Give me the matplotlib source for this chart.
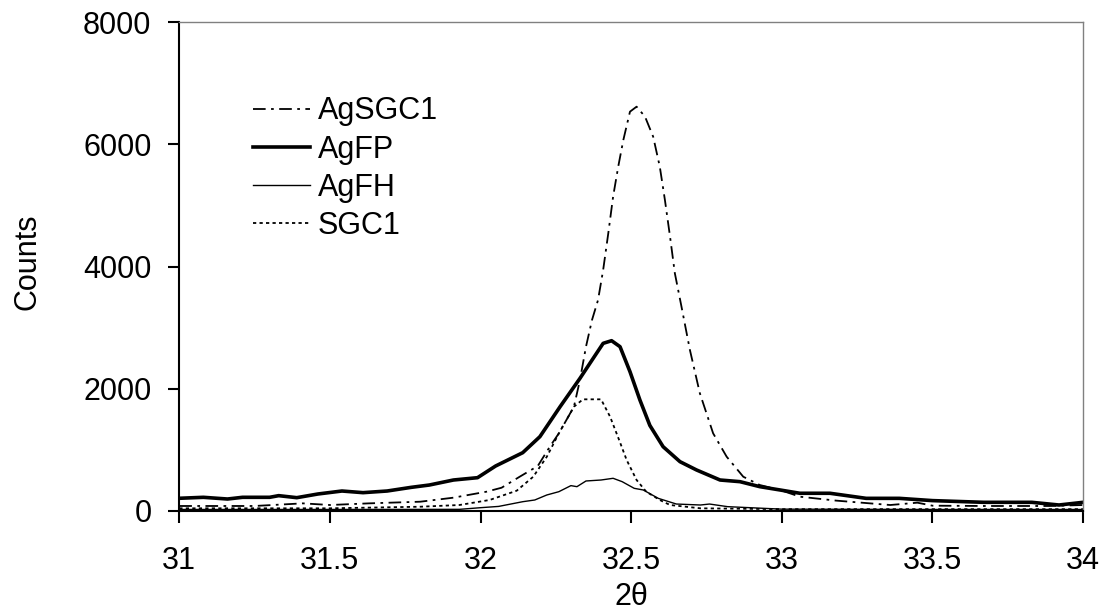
import matplotlib
matplotlib.use("Agg")
import matplotlib.pyplot as plt

plt.rcParams['font.family'] = ['Liberation Sans', 'DejaVu Sans']

# values (2theta, counts)
agsgc1_x = [31.0, 31.25, 31.41, 31.5, 31.63, 31.8, 31.91, 32.02, 32.07, 32.13, 32.19, 32.23,
            32.26, 32.31, 32.33, 32.35, 32.37, 32.39, 32.407, 32.424, 32.44, 32.457, 32.474,
            32.496, 32.518, 32.546, 32.573, 32.595, 32.612, 32.629, 32.645, 32.667, 32.695,
            32.728, 32.772, 32.817, 32.872, 32.927, 32.994, 33.06, 33.18, 33.36, 33.45, 33.5,
            33.67, 33.89, 34.0]
agsgc1_y = [82, 82, 125, 98, 125, 152, 218, 316, 381, 561, 736, 1052,
            1271, 1706, 2143, 2688, 3125, 3452, 3943, 4543, 5142, 5633, 6070,
            6533, 6615, 6451, 6124, 5633, 5088, 4488, 3889, 3343, 2634,
            1926, 1271, 888, 561, 425, 344, 234, 170, 98, 136, 87,
            82, 82, 98]

agfp_x = [31.0, 31.08, 31.16, 31.21, 31.3, 31.33, 31.39, 31.46, 31.54, 31.61, 31.69, 31.77,
          31.83, 31.91, 31.99, 32.05, 32.14, 32.197, 32.264, 32.33, 32.374, 32.407, 32.435,
          32.463, 32.496, 32.529, 32.562, 32.606, 32.662, 32.717, 32.795, 32.861, 32.927,
          32.994, 33.06, 33.16, 33.28, 33.39, 33.5, 33.67, 33.83, 33.92, 34.0]
agfp_y = [208, 224, 196, 224, 224, 251, 218, 278, 327, 300, 327, 387,
          425, 507, 545, 736, 954, 1216, 1706, 2170, 2498, 2743, 2786,
          2688, 2280, 1816, 1400, 1052, 807, 671, 507, 480, 398,
          344, 290, 290, 207, 207, 170, 142, 142, 98, 142]

agfh_x = [31.0, 31.5, 31.93, 32.0, 32.06, 32.14, 32.18, 32.22, 32.26, 32.3, 32.32, 32.35,
          32.4, 32.44, 32.47, 32.51, 32.54, 32.59, 32.65, 32.73, 32.76, 32.82, 33.0, 33.5, 34.0]
agfh_y = [25, 25, 27, 54, 75, 152, 180, 262, 316, 415, 398, 491,
          507, 535, 480, 371, 344, 207, 114, 98, 114, 71, 30, 25, 25]

sgc1_x = [31.0, 31.5, 31.8, 31.93, 32.03, 32.12, 32.175, 32.22, 32.26, 32.31, 32.34, 32.4,
          32.43, 32.46, 32.485, 32.518, 32.55, 32.595, 32.629, 32.73, 33.0, 33.5, 34.0]
sgc1_y = [44, 44, 70, 98, 180, 332, 561, 888, 1271, 1706, 1827, 1827,
          1543, 1162, 834, 507, 316, 180, 98, 44, 30, 30, 30]

fig = plt.figure(figsize=(11.08, 6.13), dpi=100)
ax = fig.add_axes([0.1618, 0.1664, 0.8157, 0.7977])

ax.plot(agsgc1_x, agsgc1_y, color='black', lw=1.3, ls=(0, (7, 3, 1.5, 3)), label='AgSGC1')
ax.plot(agfp_x, agfp_y, color='black', lw=2.6, label='AgFP')
ax.plot(agfh_x, agfh_y, color='black', lw=1.0, label='AgFH')
ax.plot(sgc1_x, sgc1_y, color='black', lw=1.3, ls=(0, (1.8, 1.8)), label='SGC1')

ax.set_xlim(31, 34)
ax.set_ylim(0, 8000)
ax.set_xticks([31, 31.5, 32, 32.5, 33, 33.5, 34])
ax.set_xticklabels(['31', '31.5', '32', '32.5', '33', '33.5', '34'])
ax.set_yticks([0, 2000, 4000, 6000, 8000])

for s in ['left', 'bottom']:
    ax.spines[s].set_linewidth(1.5)
for s in ['top', 'right']:
    ax.spines[s].set_color('#808080')
    ax.spines[s].set_linewidth(1.0)

ax.tick_params(axis='x', direction='out', length=8.5, width=1.5, pad=17, labelsize=22)
ax.tick_params(axis='y', direction='out', length=8, width=1.5, pad=12, labelsize=22)

ax.set_xlabel('2θ', fontsize=22)
ax.set_ylabel('Counts', fontsize=22)
ax.xaxis.set_label_coords(0.5, -0.145)
ax.yaxis.set_label_coords(-0.151, 0.509)

ax.legend(loc='upper left', bbox_to_anchor=(0.0816, 0.848), frameon=False, fontsize=22,
          handlelength=1.87, handletextpad=0.26, labelspacing=0.27, borderpad=0, borderaxespad=0)

fig.savefig('out.png', dpi=100)
